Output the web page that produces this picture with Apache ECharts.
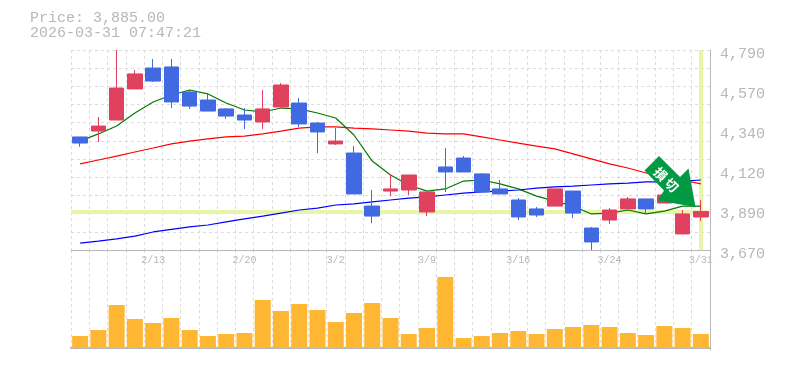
<!DOCTYPE html>
<html><head><meta charset="utf-8">
<style>html,body{margin:0;padding:0;background:#fff}#c{width:785px;height:370px}</style>
<script src="https://cdn.jsdelivr.net/npm/echarts@6/dist/echarts.min.js"></script>
</head><body><div id="c"></div>
<script>
const dates = ['2/6','2/9','2/10','2/12','2/13','2/16','2/17','2/18','2/19','2/20','2/24','2/25','2/26','2/27','3/2','3/3','3/4','3/5','3/6','3/9','3/10','3/11','3/12','3/13','3/16','3/17','3/18','3/19','3/23','3/24','3/25','3/26','3/27','3/30','3/31'];
const labelledDates = ['2/13','2/20','3/2','3/9','3/16','3/24','3/31'];
const opens  = [4303,4336,4398,4572,4689,4695,4555,4510,4460,4426,4387,4471,4493,4381,4264,4213,3916,4000,4006,3883,4135,4185,4096,4012,3950,3900,3916,4000,3793,3838,3900,3956,3933,3760,3855];
const closes = [4269,4364,4577,4656,4616,4499,4476,4448,4420,4398,4460,4594,4376,4331,4280,3984,3860,4012,4090,3995,4107,4107,3995,3984,3855,3866,4012,3877,3715,3894,3956,3900,3978,3872,3885];
const lows   = [4248,4275,4398,4572,4611,4465,4460,4448,4404,4348,4348,4460,4359,4213,4258,3984,3821,3972,3978,3860,3995,4107,3995,3984,3838,3855,3916,3849,3670,3816,3900,3872,3933,3760,3832];
const highs  = [4303,4415,4790,4678,4740,4740,4566,4544,4465,4465,4566,4605,4521,4387,4353,4252,4006,4096,4090,3995,4241,4196,4101,4062,3961,3911,4012,4000,3799,3905,3967,3956,3978,3894,3950];
const maShort = [4280,4320,4364,4437,4499,4538,4566,4544,4493,4454,4443,4465,4460,4437,4409,4314,4168,4090,4034,4000,4012,4056,4062,4040,4012,3972,3944,3916,3872,3877,3894,3872,3888,3916,3916];
const maMid   = [4152,4174,4196,4219,4241,4264,4280,4292,4303,4308,4320,4336,4353,4359,4359,4353,4348,4342,4336,4325,4320,4320,4303,4286,4269,4252,4236,4208,4180,4152,4129,4101,4079,4062,4040];
const maLong  = [3709,3720,3732,3748,3771,3785,3799,3810,3827,3844,3860,3877,3894,3905,3922,3928,3939,3950,3961,3967,3978,3989,3995,4000,4006,4017,4023,4028,4034,4040,4045,4051,4051,4056,4062];
const volumes = [12,18,43,29,25,30,18,12,14,15,48,37,44,38,26,35,45,30,14,20,71,10,12,15,17,14,19,21,23,21,15,13,22,20,14];
const lastPrice = 3885;
const stamp = '2026-03-31 07:47:21';
const arrowGlyphs = ['損','切'];

const GREY = '#b8b8b8', GRID = '#dcdcdc', MONO = '"Liberation Mono","DejaVu Sans Mono",monospace';
const dash = {color: GRID, width: 1, type: [3, 3]};
const glyphStyle = {fill: '#fff', font: 'bold 13px "Noto Sans CJK JP"', align: 'center', verticalAlign: 'middle'};
const chart = echarts.init(document.getElementById('c'), null, {renderer: 'canvas'});
chart.setOption({
  animation: false,
  backgroundColor: '#fff',
  title: {
    left: 30, top: 11, padding: 0, itemGap: 0,
    text: 'Price: ' + lastPrice.toLocaleString('en-US', {minimumFractionDigits: 2}) + '\n' + stamp,
    textStyle: {fontFamily: MONO, fontSize: 15, fontWeight: 'normal', color: GREY, lineHeight: 15}
  },
  grid: [
    {left: 71, width: 639, top: 50, height: 200},
    {left: 71, width: 639, top: 250, height: 100}
  ],
  xAxis: [
    {type: 'category', gridIndex: 0, data: dates, boundaryGap: true,
     axisLine: {lineStyle: {color: GREY, width: 1}}, axisTick: {show: false},
     splitLine: {show: true, interval: 0, lineStyle: dash},
     axisLabel: {interval: (i, v) => labelledDates.includes(v), margin: 5, color: GREY, fontFamily: MONO, fontSize: 10, hideOverlap: false}},
    {type: 'category', gridIndex: 1, data: dates, boundaryGap: true,
     axisLine: {lineStyle: {color: GREY, width: 2}}, axisTick: {show: false},
     splitLine: {show: true, interval: 0, lineStyle: dash},
     axisLabel: {show: false}}
  ],
  yAxis: [
    {type: 'value', gridIndex: 0, position: 'right', min: 3670, max: 4790, interval: 224,
     axisLine: {show: true, lineStyle: {color: GREY, width: 1}}, axisTick: {show: false}, splitLine: {show: false},
     axisLabel: {margin: 10, color: GREY, fontFamily: MONO, fontSize: 15, verticalAlign: 'top', lineHeight: 8,
       formatter: v => (Math.round(v / 10) * 10).toLocaleString('en-US')}},
    {type: 'value', gridIndex: 0, position: 'left', min: 0, max: 11, interval: 1,
     axisLine: {show: false}, axisTick: {show: false}, axisLabel: {show: false},
     splitLine: {show: true, lineStyle: dash}},
    {type: 'value', gridIndex: 1, position: 'right', min: -2, max: 98,
     axisLine: {show: true, lineStyle: {color: GREY, width: 1}}, axisTick: {show: false}, axisLabel: {show: false}, splitLine: {show: false}}
  ],
  series: [
    {type: 'candlestick', xAxisIndex: 0, yAxisIndex: 0, z: 5, barWidth: 15, clip: true,
     data: dates.map((d, i) => [opens[i], closes[i], lows[i], highs[i]]),
     itemStyle: {color: '#e0415f', color0: '#4169e1', borderColor: '#e0415f', borderColor0: '#4169e1', borderWidth: 1},
     markLine: {silent: true, symbol: 'none', z: 1, animation: false, label: {show: false},
       lineStyle: {color: '#e6f5a8', width: 4, type: 'solid'},
       data: [{yAxis: lastPrice}, {xAxis: dates[dates.length - 1]}]}},
    {type: 'line', xAxisIndex: 0, yAxisIndex: 0, z: 3, data: maShort, showSymbol: false, lineStyle: {color: '#007a00', width: 1.2}},
    {type: 'line', xAxisIndex: 0, yAxisIndex: 0, z: 3, data: maMid, showSymbol: false, lineStyle: {color: '#ff0000', width: 1.2}},
    {type: 'line', xAxisIndex: 0, yAxisIndex: 0, z: 3, data: maLong, showSymbol: false, lineStyle: {color: '#0000ff', width: 1.2}},
    {type: 'bar', xAxisIndex: 1, yAxisIndex: 2, z: 3, data: volumes, barWidth: 16, itemStyle: {color: '#ffb733'}}
  ],
  graphic: [
    {type: 'polygon', z: 50, shape: {points: [[659,156],[644.5,170.5],[664,190.5],[657.5,200.5],[695.5,207],[688.5,168.5],[680,177]]}, style: {fill: '#009944'}},
    {type: 'text', z: 51, x: 660.5, y: 174, rotation: -Math.PI / 4, style: Object.assign({text: arrowGlyphs[0]}, glyphStyle)},
    {type: 'text', z: 51, x: 671.5, y: 185, rotation: -Math.PI / 4, style: Object.assign({text: arrowGlyphs[1]}, glyphStyle)}
  ]
});
</script></body></html>
